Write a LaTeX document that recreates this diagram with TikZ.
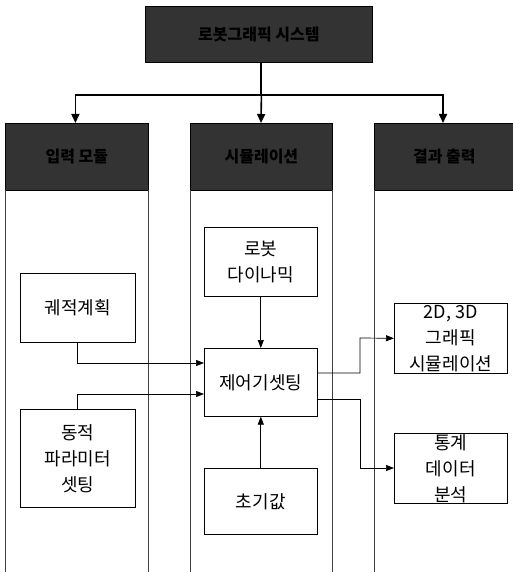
\documentclass[tikz,border=0pt]{standalone}
\usepackage{fontspec}
\setmainfont{Noto Sans CJK KR}
\usetikzlibrary{arrows.meta}
\begin{document}
\begin{tikzpicture}[x=1pt,y=-1pt,
  hdr/.style={draw=black,line width=0.8pt,fill=black!80,text=black,font=\fontsize{16}{18}\selectfont\bfseries,inner sep=0pt,anchor=north west},
  blk/.style={draw=black,line width=0.6pt,fill=white,align=center,font=\fontsize{18}{26}\selectfont,inner sep=0pt,anchor=north west},
  col/.style={draw=black!75,line width=0.6pt},
  thick arrow/.style={line width=1.6pt,-{Triangle[length=9pt,width=8pt]}},
  thin arrow/.style={line width=0.7pt,-{Triangle[length=8pt,width=6pt]}}]
\useasboundingbox (0,0) rectangle (512,572);
% top box
\node[hdr,minimum width=227pt,minimum height=56pt] (top) at (145,6) {로봇그래픽 시스템};
% headers
\node[hdr,minimum width=143pt,minimum height=67pt] (h1) at (5,123) {입력 모듈};
\node[hdr,minimum width=142pt,minimum height=67pt] (h2) at (190,123) {시뮬레이션};
\node[hdr,minimum width=140pt,minimum height=67pt] (h3) at (374,123) {결과 출력};
% column borders
\coordinate (c1a) at (5,190); \coordinate (c1b) at (5,572);
\coordinate (c2a) at (148,190); \coordinate (c2b) at (148,572);
\coordinate (c3a) at (190,190); \coordinate (c3b) at (190,572);
\coordinate (c4a) at (332,190); \coordinate (c4b) at (332,572);
\coordinate (c5a) at (374,190); \coordinate (c5b) at (374,572);
\draw[col] (c1a)--(c1b) (c2a)--(c2b) (c3a)--(c3b) (c4a)--(c4b) (c5a)--(c5b);
% top arrows
\coordinate (split) at (261,95);
\draw[line width=1.6pt] (top.south -| split) -- (split);
\draw[thick arrow] (split) -- (split -| h2.north) -- (h2.north -| split);
\draw[thick arrow] (split) -| ([xshift=-1.5pt]h1.north);
\draw[thick arrow] (split) -| ([xshift=-1pt]h3.north -| 444,0);
% blocks
\node[blk,minimum width=115pt,minimum height=69pt] (traj) at (20,273) {궤적계획};
\node[blk,minimum width=115pt,minimum height=98pt] (dyn) at (20,409) {동적\\파라미터\\셋팅};
\node[blk,minimum width=113pt,minimum height=69pt] (robot) at (204,227) {로봇\\다이나믹};
\node[blk,minimum width=113pt,minimum height=68pt] (ctrl) at (204,348) {제어기셋팅};
\node[blk,minimum width=113pt,minimum height=66pt] (init) at (204,468) {초기값};
\node[blk,minimum width=113pt,minimum height=70pt] (gfx) at (394,303) {2D, 3D\\그래픽\\시뮬레이션};
\node[blk,minimum width=113pt,minimum height=70pt] (stat) at (394,433) {통계\\데이터\\분석};
% connectors
\draw[thin arrow] (robot.south) -- (ctrl.north);
\draw[thin arrow] (init.north) -- (ctrl.north |- ctrl.south);
\draw[thin arrow] (traj.south -| 77,0) |- (ctrl.west |- 0,363);
\draw[thin arrow] (dyn.north -| 77,0) |- (ctrl.west |- 0,394);
\draw[thin arrow] (ctrl.east |- 0,373) -| (360,338) -- (gfx.west);
\draw[thin arrow] (ctrl.east |- 0,399) -| (360,468) -- (stat.west |- 0,468);
\end{tikzpicture}
\end{document}
